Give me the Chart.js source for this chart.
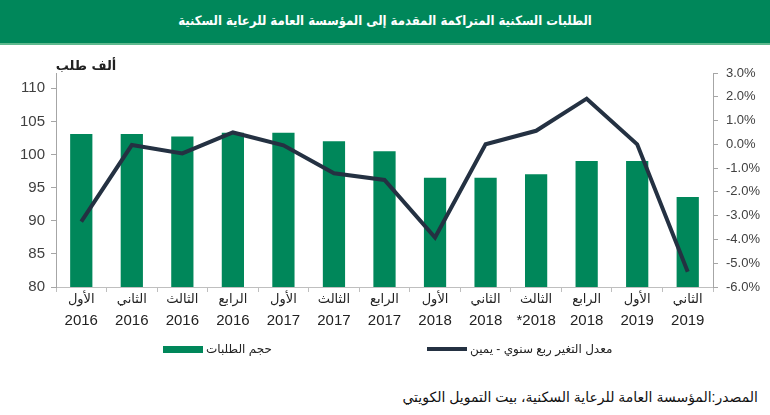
<!DOCTYPE html>
<html>
<head>
<meta charset="utf-8">
<script src="https://cdn.jsdelivr.net/npm/chart.js@4"></script>
<style>
    body { margin: 0; width: 770px; height: 415px; background: #fff; position: relative; overflow: hidden; font-family: "Liberation Sans", "DejaVu Sans", sans-serif; }
    #title { position: absolute; left: 0; top: 0; width: 770px; height: 43px; background: #00875a; border-bottom: 2px solid #5fb98e; color: #fff; font-family: "DejaVu Sans Condensed", "DejaVu Sans", sans-serif; font-weight: bold; font-size: 13px; text-align: center; line-height: 41px; direction: rtl; }
    #chartBox { position: absolute; left: 0; top: 44px; }
    .legendItem { position: absolute; top: 342px; font-size: 12px; color: #222; white-space: nowrap; display: flex; align-items: center; }
    .legendItem span.swatch { display: inline-block; width: 40px; margin-right: 3px; }
    #source { position: absolute; right: 12px; top: 389px; font-size: 14px; color: #111; direction: rtl; white-space: nowrap; }
</style>
</head>
<body>
<div id="title">الطلبات السكنية المتراكمة المقدمة إلى المؤسسة العامة للرعاية السكنية</div>
<canvas id="chartBox" width="770" height="300"></canvas>
<div id="legend"></div>
<div id="source">المصدر:المؤسسة العامة للرعاية السكنية، بيت التمويل الكويتي</div>

<script>
// quarter labels (line 1) and years (line 2)
const quarters = ["الأول", "الثاني", "الثالث", "الرابع", "الأول", "الثالث", "الرابع", "الأول", "الثاني", "الثالث", "الرابع", "الأول", "الثاني"];
const years = ["2016", "2016", "2016", "2016", "2017", "2017", "2017", "2018", "2018", "*2018", "2018", "2019", "2019"];

// thousand requests (left axis)
const requests = [103.1, 103.1, 102.7, 103.3, 103.3, 102.0, 100.5, 96.5, 96.5, 97.0, 99.0, 99.0, 93.6];
// y/y quarterly change, % (right axis)
const growth = [-3.25, -0.03, -0.38, 0.5, -0.04, -1.22, -1.5, -3.92, 0.0, 0.57, 1.92, 0.0, -5.36];

const leftTicks = [80, 85, 90, 95, 100, 105, 110];
const rightTicks = [-6, -5, -4, -3, -2, -1, 0, 1, 2, 3];

const barLabel = "حجم الطلبات";
const lineLabel = "معدل التغير ربع سنوي - يمين";
const leftUnit = "ألف طلب";

const GREEN = "#00875a";
const NAVY = "#243142";
const AXIS = "#a6a6a6";

// ===============================
// two-line category labels + unit label
// ===============================
const labelPlugin = {
    id: "labelPlugin",
    afterDraw(chart) {
        const ctx = chart.ctx;
        const xs = chart.scales.x;
        const area = chart.chartArea;
        ctx.save();
        ctx.fillStyle = "#222";
        ctx.textAlign = "center";
        ctx.textBaseline = "middle";
        quarters.forEach((q, i) => {
            const px = xs.getPixelForValue(i);
            ctx.font = '13px "DejaVu Sans", sans-serif';
            ctx.fillText(q, px, area.bottom + 13);
            ctx.font = '15px "Liberation Sans", sans-serif';
            ctx.fillText(years[i], px, area.bottom + 34);
        });
        ctx.font = 'bold 13px "DejaVu Sans", sans-serif';
        ctx.fillText(leftUnit, area.left + 30, area.top - 6);
        ctx.restore();
    }
};

const chart = new Chart(document.getElementById("chartBox"), {
    data: {
        labels: quarters.map((q, i) => q + " " + years[i]),
        datasets: [
            {
                type: "line",
                label: lineLabel,
                data: growth,
                yAxisID: "y1",
                borderColor: NAVY,
                backgroundColor: NAVY,
                borderWidth: 4,
                pointRadius: 0,
                tension: 0,
                order: 0
            },
            {
                type: "bar",
                label: barLabel,
                data: requests,
                yAxisID: "y",
                backgroundColor: GREEN,
                barPercentage: 0.44,
                categoryPercentage: 1,
                order: 1
            }
        ]
    },
    options: {
        responsive: false,
        animation: false,
        layout: { padding: { top: 29, left: 0, right: 0, bottom: 0 } },
        plugins: {
            legend: { display: false },
            tooltip: { enabled: false }
        },
        scales: {
            x: {
                offset: true,
                grid: { offset: true, drawOnChartArea: false, tickLength: 5, color: "#bfbfbf" },
                border: { color: "#bfbfbf" },
                ticks: { display: false },
                afterFit: s => { s.height = 57; }
            },
            y: {
                position: "left",
                min: 80,
                max: 112.3,
                afterBuildTicks: s => { s.ticks = leftTicks.map(v => ({ value: v })); },
                grid: { drawOnChartArea: false, tickLength: 5, color: AXIS },
                border: { color: AXIS },
                ticks: { font: { family: "Liberation Sans", size: 15 }, color: "#404040", padding: 6 },
                afterFit: s => { s.width = 56; }
            },
            y1: {
                position: "right",
                min: -6,
                max: 3,
                afterBuildTicks: s => { s.ticks = rightTicks.map(v => ({ value: v })); },
                grid: { drawOnChartArea: false, tickLength: 5, color: AXIS },
                border: { color: AXIS },
                ticks: {
                    font: { family: "Liberation Sans", size: 13 },
                    color: "#404040",
                    padding: 8,
                    callback: v => v.toFixed(1) + "%"
                },
                afterFit: s => { s.width = 57; }
            }
        }
    },
    plugins: [labelPlugin]
});

// ===============================
// HTML legend (bars left, line right)
// ===============================
function buildLegend() {
    const holder = document.getElementById("legend");
    const items = [
        { ds: chart.data.datasets[1], left: 163, h: 7 },
        { ds: chart.data.datasets[0], left: 427, h: 4 }
    ];
    items.forEach(it => {
        const div = document.createElement("div");
        div.className = "legendItem";
        div.style.left = it.left + "px";
        div.innerHTML = `<span class="swatch" style="height:${it.h}px;background:${it.ds.backgroundColor}"></span><span>${it.ds.label}</span>`;
        holder.appendChild(div);
    });
}
buildLegend();
</script>
</body>
</html>
